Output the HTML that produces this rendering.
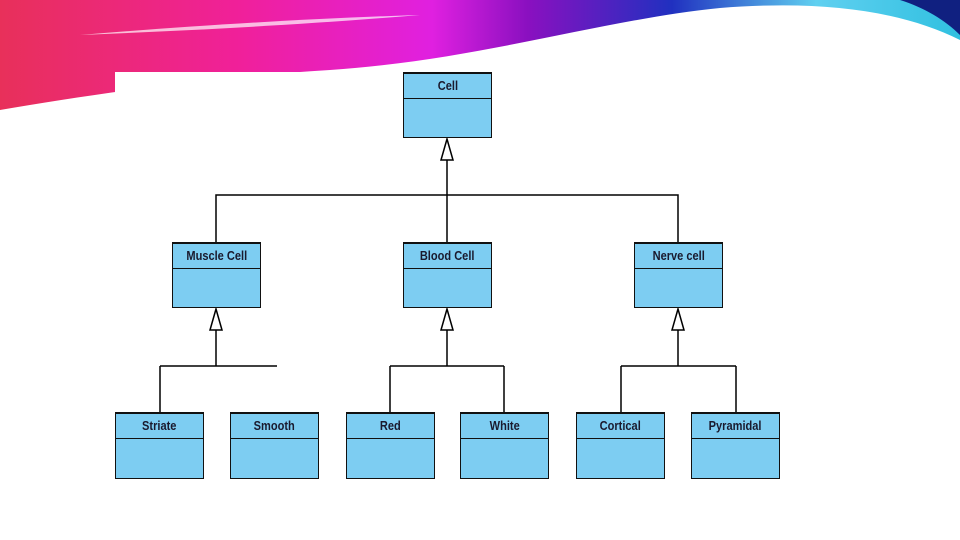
<!DOCTYPE html>
<html><head><style>
body{margin:0;width:960px;height:540px;overflow:hidden;background:#fff;font-family:"Liberation Sans",sans-serif}
.b{position:absolute;width:89px;height:66px;background:#7dcdf2;border:1px solid #111;border-top:2px solid #111;box-sizing:border-box}
.b div{height:24px;border-bottom:1.5px solid #111;text-align:center;font-size:13px;line-height:24px;font-weight:bold;color:#1a1a2e}
.b span{display:inline-block;transform:scaleX(0.85)}
</style></head><body>
<svg width="960" height="540" style="position:absolute;left:0;top:0">
<defs>
<linearGradient id="g1" x1="0" y1="0" x2="1" y2="0">
<stop offset="0" stop-color="#e8305a"/><stop offset="0.25" stop-color="#f0209a"/><stop offset="0.45" stop-color="#e020e0"/><stop offset="0.55" stop-color="#8a10c0"/><stop offset="0.7" stop-color="#2030c0"/><stop offset="0.85" stop-color="#60d0f0"/><stop offset="1" stop-color="#30c0e0"/>
</linearGradient>
</defs>
<path d="M0 0 H960 V40 C900 10 820 0 720 8 C600 20 480 60 330 70 C200 78 90 95 0 110 Z" fill="url(#g1)"/>
<path d="M80 35 C200 25 320 18 420 15 C300 25 200 30 80 35Z" fill="#fff" opacity="0.7"/>
<path d="M900 0 H960 V35 C945 20 925 8 900 0Z" fill="#102080"/>
<rect x="115" y="72" width="240" height="40" fill="#fff"/>
<g stroke="#000" stroke-width="1.5" fill="none">
<path d="M216 242V195H678V242M447 195V160M447 242V195"/>
<path d="M216 330V366M160 366H277M160 366V412"/>
<path d="M447 330V366M390 366H504M390 366V412M504 366V412"/>
<path d="M678 330V366M621 366H736M621 366V412M736 366V412"/>
</g>
<g stroke="#000" stroke-width="1.5" fill="#fff">
<path d="M447 139L441 160H453Z"/>
<path d="M216 309L210 330H222Z"/>
<path d="M447 309L441 330H453Z"/>
<path d="M678 309L672 330H684Z"/>
</g>
</svg>
<div class="b" style="left:403px;top:72px"><div><span>Cell</span></div></div>
<div class="b" style="left:172px;top:242px"><div><span>Muscle Cell</span></div></div>
<div class="b" style="left:403px;top:242px"><div><span>Blood Cell</span></div></div>
<div class="b" style="left:634px;top:242px"><div><span>Nerve cell</span></div></div>
<div class="b" style="left:115px;top:412px;height:67px"><div><span>Striate</span></div></div>
<div class="b" style="left:230px;top:412px;height:67px"><div><span>Smooth</span></div></div>
<div class="b" style="left:346px;top:412px;height:67px"><div><span>Red</span></div></div>
<div class="b" style="left:460px;top:412px;height:67px"><div><span>White</span></div></div>
<div class="b" style="left:576px;top:412px;height:67px"><div><span>Cortical</span></div></div>
<div class="b" style="left:691px;top:412px;height:67px"><div><span>Pyramidal</span></div></div>
</body></html>
